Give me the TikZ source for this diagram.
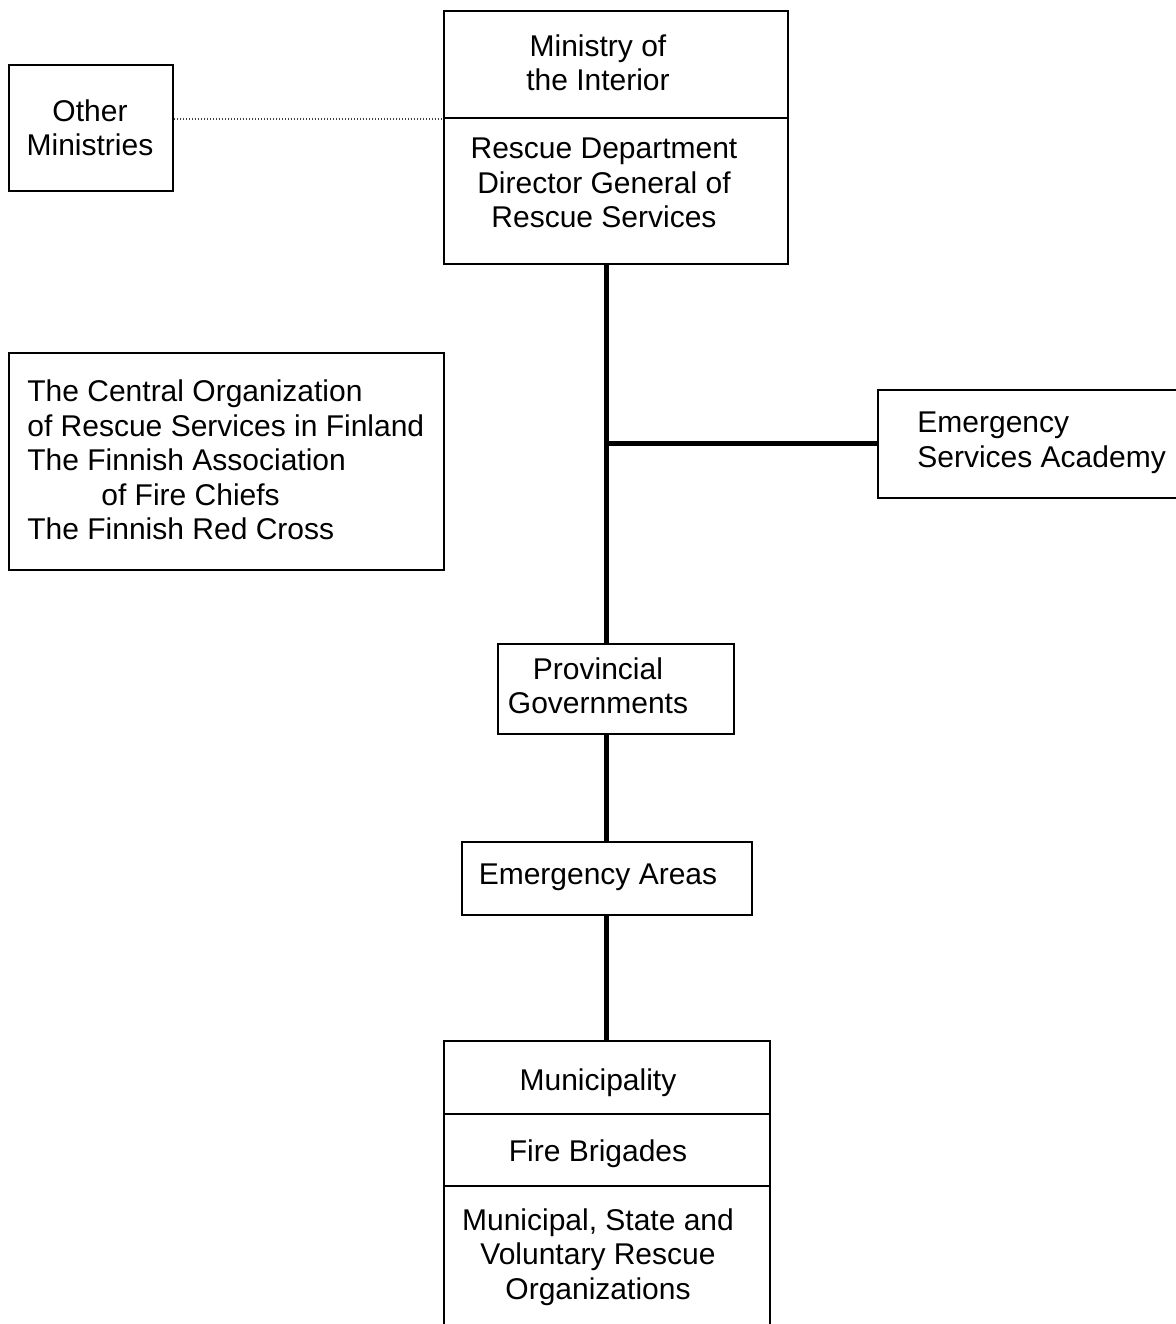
\documentclass[tikz,border=0pt]{standalone}
\usepackage{fontspec}
\setmainfont{Liberation Sans}

\tikzset{
  box/.style = {draw, line width = 1pt, inner sep = 0pt, anchor = north west},
  lbl/.style = {inner sep = 0pt, align = center,
    font = \fontsize{15}{17.25}\selectfont},
  trunk/.style = {line width = 2.5pt},
  dotline/.style = {line width = 0.7pt, black!75,
    dash pattern = on 0.7pt off 0.8pt}
}

\begin{document}
\begin{tikzpicture}[x = 0.5pt, y = -0.5pt]

  \useasboundingbox (0, 0) rectangle (1175, 1324);

  % boxes
  \node[box, minimum width = 82pt, minimum height = 63pt]
    (othr) at (8, 64) {};
  \node[box, minimum width = 172pt, minimum height = 53.5pt]
    (mint) at (443, 10) {};
  \node[box, minimum width = 172pt, minimum height = 73pt]
    (resc) at (443, 117) {};
  \node[box, minimum width = 217.5pt, minimum height = 108.5pt]
    (cent) at (8, 352) {};
  \node[box, minimum width = 156.5pt, minimum height = 54pt]
    (acad) at (877, 389) {};
  \node[box, minimum width = 118pt, minimum height = 45pt]
    (prov) at (497, 643) {};
  \node[box, minimum width = 145pt, minimum height = 36.5pt]
    (area) at (461, 841) {};
  \node[box, minimum width = 163pt, minimum height = 36.5pt]
    (muni) at (443, 1040) {};
  \node[box, minimum width = 163pt, minimum height = 36pt]
    (brig) at (443, 1113) {};
  \node[box, minimum width = 163pt, minimum height = 80pt]
    (orgs) at (443, 1185) {};

  % texts
  \node[lbl] (othrtxt) at (90, 128) {Other\\Ministries};
  \node[lbl] (minttxt) at (598, 63) {Ministry of\\the Interior};
  \node[lbl] (resctxt) at (604, 183)
    {Rescue Department\\Director General of\\Rescue Services};
  \node[lbl, anchor = west, align = left] (centtxt) at (27, 460)
    {The Central Organization\\of Rescue Services in Finland\\
     The Finnish Association\\\hspace*{37pt}of Fire Chiefs\\
     The Finnish Red Cross};
  \node[lbl, anchor = west, align = left] (acadtxt) at (917, 443)
    {Emergency\\Services Academy};
  \node[lbl] (provtxt) at (598, 686) {Provincial\\Governments};
  \node[lbl] (areatxt) at (598, 877) {Emergency Areas};
  \node[lbl] (munitxt) at (598, 1083) {Municipality};
  \node[lbl] (brigtxt) at (598, 1154) {Fire Brigades};
  \node[lbl] (orgstxt) at (598, 1257)
    {Municipal, State and\\Voluntary Rescue\\Organizations};

  % connectors
  \coordinate (jn) at (606, 443);

  \draw[dotline] (othr.east |- mint.south west) -- (mint.south west);
  \draw[trunk] (resc.south -| jn) -- (prov.north -| jn);
  \draw[trunk] (jn) -- (jn -| acad.west);
  \draw[trunk] (prov.south -| jn) -- (area.north -| jn);
  \draw[trunk] (area.south -| jn) -- (muni.north -| jn);

\end{tikzpicture}
\end{document}
